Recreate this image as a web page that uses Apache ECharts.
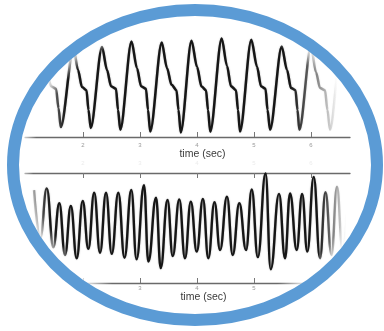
<!DOCTYPE html>
<html>
<head>
<meta charset="utf-8">
<script src="https://cdn.jsdelivr.net/npm/echarts@6/dist/echarts.min.js"></script>
<style>
  html, body { margin: 0; padding: 0; background: #ffffff; }
  #chart { width: 384px; height: 331px; }
</style>
</head>
<body>
<div id="chart"></div>
<script>
// Upper trace: time (s) and amplitude at each trough / peak / shoulder vertex
const topTime = [
  1.079, 1.281, 1.368, 1.439, 1.526, 1.570,
  1.609, 1.833, 1.912, 1.982, 2.061, 2.096,
  2.135, 2.333, 2.421, 2.491, 2.579, 2.614,
  2.654, 2.851, 2.947, 3.018, 3.105, 3.140,
  3.179, 3.381, 3.474, 3.553, 3.640, 3.675,
  3.714, 3.904, 4.000, 4.079, 4.158, 4.193,
  4.232, 4.433, 4.526, 4.596, 4.684, 4.719,
  4.754, 4.953, 5.053, 5.123, 5.202, 5.237,
  5.281, 5.486, 5.579, 5.649, 5.728, 5.763,
  5.795, 6.000, 6.088, 6.158, 6.246, 6.289,
  6.333, 6.526, 6.614, 6.684
];
const topAmp = [
  0.22, 1.71, 1.44, 1.13, 1.07, 0.64,
  0.22, 1.98, 1.49, 1.11, 1.04, 0.60,
  0.20, 2.00, 1.49, 1.13, 1.07, 0.60,
  0.16, 2.12, 1.53, 1.13, 1.07, 0.60,
  0.12, 2.10, 1.53, 1.16, 1.04, 0.60,
  0.10, 2.14, 1.56, 1.12, 1.04, 0.60,
  0.12, 2.19, 1.58, 1.13, 1.04, 0.60,
  0.12, 2.16, 1.56, 1.13, 1.07, 0.60,
  0.16, 2.01, 1.49, 1.09, 1.04, 0.60,
  0.16, 2.02, 1.44, 1.09, 1.04, 0.60,
  0.16, 1.93, 1.44, 1.13
];

// Lower trace: alternating peaks and troughs
const bottomTime = [
  1.140, 1.251, 1.363, 1.479, 1.584, 1.684, 1.786, 1.889, 1.995, 2.093,
  2.196, 2.298, 2.404, 2.504, 2.619, 2.728, 2.847, 2.939, 3.070, 3.146,
  3.281, 3.363, 3.482, 3.574, 3.689, 3.789, 3.891, 3.995, 4.104, 4.198,
  4.307, 4.404, 4.526, 4.626, 4.742, 4.860, 4.960, 5.067, 5.202, 5.293,
  5.439, 5.544, 5.632, 5.749, 5.844, 5.935, 6.047, 6.158, 6.254, 6.360,
  6.456, 6.553, 6.649
];
const bottomAmp = [
  0.69, -0.18, 0.72, -0.35, 0.45, -0.49, 0.40, -0.55, 0.49, -0.38,
  0.64, -0.45, 0.64, -0.47, 0.64, -0.54, 0.69, -0.57, 0.78, -0.61,
  0.55, -0.73, 0.51, -0.51, 0.52, -0.55, 0.48, -0.43, 0.53, -0.55,
  0.47, -0.40, 0.57, -0.49, 0.45, -0.40, 0.70, -0.53, 0.99, -0.75,
  0.62, -0.55, 0.63, -0.40, 0.62, -0.43, 0.93, -0.55, 0.65, -0.49,
  0.75, -0.40, 0.51
];

const tickSeconds = [2, 3, 4, 5, 6];
const axisTitle = 'time (sec)';

const tMin = 0.982, tMax = 6.684;
const W = 384, H = 331;

// oval frame geometry
const OX = 195, OY = 165, RX = 182, RY = 155;

function fade(l0, l1, r1, r0) {
  return {
    type: 'linear', x: 0, y: 0, x2: W, y2: 0, global: true,
    colorStops: [
      { offset: l0 / W, color: 'rgba(22,22,22,0)' },
      { offset: l1 / W, color: 'rgba(22,22,22,1)' },
      { offset: r1 / W, color: 'rgba(22,22,22,1)' },
      { offset: r0 / W, color: 'rgba(22,22,22,0)' }
    ]
  };
}

// white surround: page rectangle with the oval cut out (opposite winding)
function surroundPoints() {
  const pts = [[-5, -5], [W + 5, -5], [W + 5, H + 5], [-5, H + 5], [-5, OY]];
  const n = 180;
  for (let k = 0; k <= n; k++) {
    const a = Math.PI - (2 * Math.PI * k) / n;
    pts.push([OX + RX * Math.cos(a), OY + RY * Math.sin(a)]);
  }
  pts.push([-5, OY]);
  return pts;
}

const font = '"Liberation Sans", Arial, sans-serif';
const lineCol = '#6a6a6a';

function xAxisCfg(gridIndex, position, opts) {
  return Object.assign({
    type: 'value', gridIndex: gridIndex, position: position,
    min: tMin, max: tMax,
    axisLine: { show: true, onZero: false, lineStyle: { color: lineCol, width: 1.3 } },
    axisTick: { show: true, inside: true, length: 5, customValues: tickSeconds,
                lineStyle: { color: '#777', width: 1 } },
    axisLabel: { show: true, customValues: tickSeconds, fontSize: 6, color: '#9a9a9a',
                 fontFamily: font, margin: 5 },
    splitLine: { show: false }
  }, opts || {});
}

const chart = echarts.init(document.getElementById('chart'), null, { renderer: 'canvas' });

const series = [
  {
    type: 'line', xAxisIndex: 0, yAxisIndex: 0,
    data: topTime.map((t, i) => [t, topAmp[i]]),
    showSymbol: false, smooth: 0.3, smoothMonotone: 'x',
    lineStyle: { width: 2.5, color: fade(38, 66, 290, 338),
                 shadowBlur: 1.5, shadowColor: 'rgba(0,0,0,0.35)' },
    silent: true, z: 3
  },
  {
    type: 'line', xAxisIndex: 2, yAxisIndex: 1,
    data: bottomTime.map((t, i) => [t, bottomAmp[i]]),
    showSymbol: false, smooth: 0.45, smoothMonotone: 'x',
    lineStyle: { width: 2.4, color: fade(24, 50, 318, 346),
                 shadowBlur: 1.5, shadowColor: 'rgba(0,0,0,0.35)' },
    silent: true, z: 3
  }
];

chart.setOption({
  animation: false,
  backgroundColor: '#ffffff',
  grid: [
    { left: 25, right: 34, top: 29, height: 108 },
    { left: 25, right: 34, top: 173, height: 110 }
  ],
  xAxis: [
    xAxisCfg(0, 'bottom', {
      name: axisTitle, nameLocation: 'middle', nameGap: 10,
      nameTextStyle: { fontSize: 10.5, color: '#3a3a3a', fontFamily: font, padding: [0, 0, 0, 30] }
    }),
    xAxisCfg(1, 'top', {
      axisLabel: { show: true, customValues: tickSeconds, fontSize: 6, color: '#ececec',
                   fontFamily: font, margin: 7 }
    }),
    xAxisCfg(1, 'bottom', {
      axisLabel: { show: true, customValues: tickSeconds, fontSize: 6, color: '#9a9a9a',
                   fontFamily: font, margin: 2 },
      name: axisTitle, nameLocation: 'middle', nameGap: 9,
      nameTextStyle: { fontSize: 10.5, color: '#3a3a3a', fontFamily: font, padding: [0, 0, 0, 32] }
    })
  ],
  yAxis: [
    { type: 'value', gridIndex: 0, min: 0, max: 2.4, show: false },
    { type: 'value', gridIndex: 1, min: -1, max: 1, show: false }
  ],
  series: series,
  graphic: [
    {
      // soft white feather just inside the frame
      type: 'circle', z: 90, silent: true,
      x: OX, y: OY, scaleX: RX / 100, scaleY: RY / 100,
      shape: { cx: 0, cy: 0, r: 100 },
      style: {
        fill: {
          type: 'radial', x: 0.5, y: 0.5, r: 0.5,
          colorStops: [
            { offset: 0, color: 'rgba(255,255,255,0)' },
            { offset: 0.89, color: 'rgba(255,255,255,0)' },
            { offset: 0.965, color: 'rgba(255,255,255,0.8)' },
            { offset: 1, color: 'rgba(255,255,255,1)' }
          ]
        }
      }
    },
    {
      type: 'polygon', z: 100, silent: true,
      shape: { points: surroundPoints() },
      style: { fill: '#ffffff' }
    },
    {
      type: 'ellipse', z: 101, silent: true,
      shape: { cx: OX, cy: OY, rx: RX, ry: RY },
      style: { fill: null, stroke: '#5b9bd5', lineWidth: 12 }
    }
  ]
});
</script>
</body>
</html>
